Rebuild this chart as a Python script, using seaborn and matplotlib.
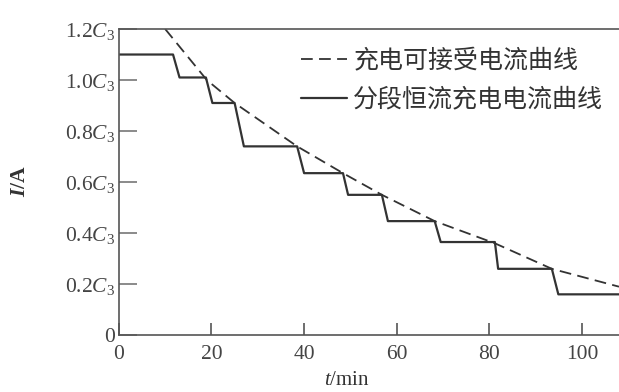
import matplotlib
matplotlib.use("Agg")
import matplotlib.pyplot as plt
import seaborn as sns
import pandas as pd

# ---- data ----
# acceptable charging current curve (dashed)
accept_t = [10, 19, 25, 38.5, 48.4, 56.8, 68.2, 81.2, 93.5, 108]
accept_i = [1.20, 1.00, 0.91, 0.74, 0.635, 0.55, 0.447, 0.36, 0.26, 0.19]

# staged constant-current curve (solid)
step_levels = [1.10, 1.01, 0.91, 0.74, 0.635, 0.55, 0.447, 0.365, 0.26, 0.16]
step_starts = [0, 13.1, 20.2, 27, 40, 49.5, 58.1, 69.5, 81.9, 94.9]
step_ends = [11.7, 18.8, 25, 38.5, 48.4, 56.8, 68.2, 81.2, 93.5, 108]

x_ticks = [0, 20, 40, 60, 80, 100]
y_ticks = [0, 0.2, 0.4, 0.6, 0.8, 1.0, 1.2]
y_tick_labels = ["0", r"$0.2\mathit{C}_3$", r"$0.4\mathit{C}_3$", r"$0.6\mathit{C}_3$",
                 r"$0.8\mathit{C}_3$", r"$1.0\mathit{C}_3$", r"$1.2\mathit{C}_3$"]
label_accept = "充电可接受电流曲线"
label_step = "分段恒流充电电流曲线"

# ---- build tables ----
df_accept = pd.DataFrame({"t": accept_t, "I": accept_i})
st, si = [], []
for a, b, lv in zip(step_starts, step_ends, step_levels):
    st += [a, b]
    si += [lv, lv]
df_step = pd.DataFrame({"t": st, "I": si})

sns.set_theme(style="ticks")
plt.rcParams["font.family"] = ["Liberation Serif", "DejaVu Serif"]
plt.rcParams["mathtext.fontset"] = "custom"
plt.rcParams["mathtext.rm"] = "Liberation Serif"
plt.rcParams["mathtext.it"] = "Liberation Serif:italic"
plt.rcParams["mathtext.bf"] = "Liberation Serif:bold"
plt.rcParams["mathtext.bfit"] = "Liberation Serif:italic:bold"

fig = plt.figure(figsize=(6.19, 3.92), dpi=100)
ax = fig.add_axes([0.192, 0.145, 0.808, 0.781])

ink = "#333333"
sns.lineplot(data=df_accept, x="t", y="I", ax=ax, color=ink, lw=1.3,
             estimator=None, sort=False, label=label_accept,
             dashes=False)
ax.lines[-1].set_dashes([6.5, 3.5])
sns.lineplot(data=df_step, x="t", y="I", ax=ax, color=ink, lw=1.6,
             estimator=None, sort=False, label=label_step)

ax.set_xlim(0, 108)
ax.set_ylim(0, 1.2)
ax.set_xticks(x_ticks)
ax.set_xticklabels([str(v) for v in x_ticks])
ax.set_yticks(y_ticks)
ax.set_yticklabels(y_tick_labels)

for s in ["left", "bottom", "top"]:
    ax.spines[s].set_color("#555555")
    ax.spines[s].set_linewidth(1.2)
ax.spines["right"].set_visible(False)

ax.tick_params(axis="y", direction="in", length=13, width=1.2, color="#777777",
               labelsize=15.5, labelcolor="#444444", pad=3)
ax.tick_params(axis="x", direction="in", length=9, width=1.2, color="#555555",
               labelsize=15.5, labelcolor="#444444", pad=7)

ax.set_xlabel(r"$\mathit{t}$/min", fontsize=15, color="#333333", va="center")
ax.xaxis.set_label_coords(0.456, -0.148)
ax.set_ylabel(r"$\mathbfit{I}$/A", fontsize=15.5, color="#333333",
              va="center", fontweight="bold")
ax.yaxis.set_label_coords(-0.198, 0.503)

leg = ax.legend(loc="upper left", bbox_to_anchor=(0.486, 0.878),
                bbox_transform=fig.transFigure, frameon=False,
                borderpad=0, borderaxespad=0, handlelength=1.85,
                handletextpad=0.25, labelspacing=0.5,
                prop={"family": ["Noto Sans CJK SC", "DejaVu Sans"], "size": 18})
for txt in leg.get_texts():
    txt.set_color("#333333")

fig.savefig("out.png", dpi=100)
